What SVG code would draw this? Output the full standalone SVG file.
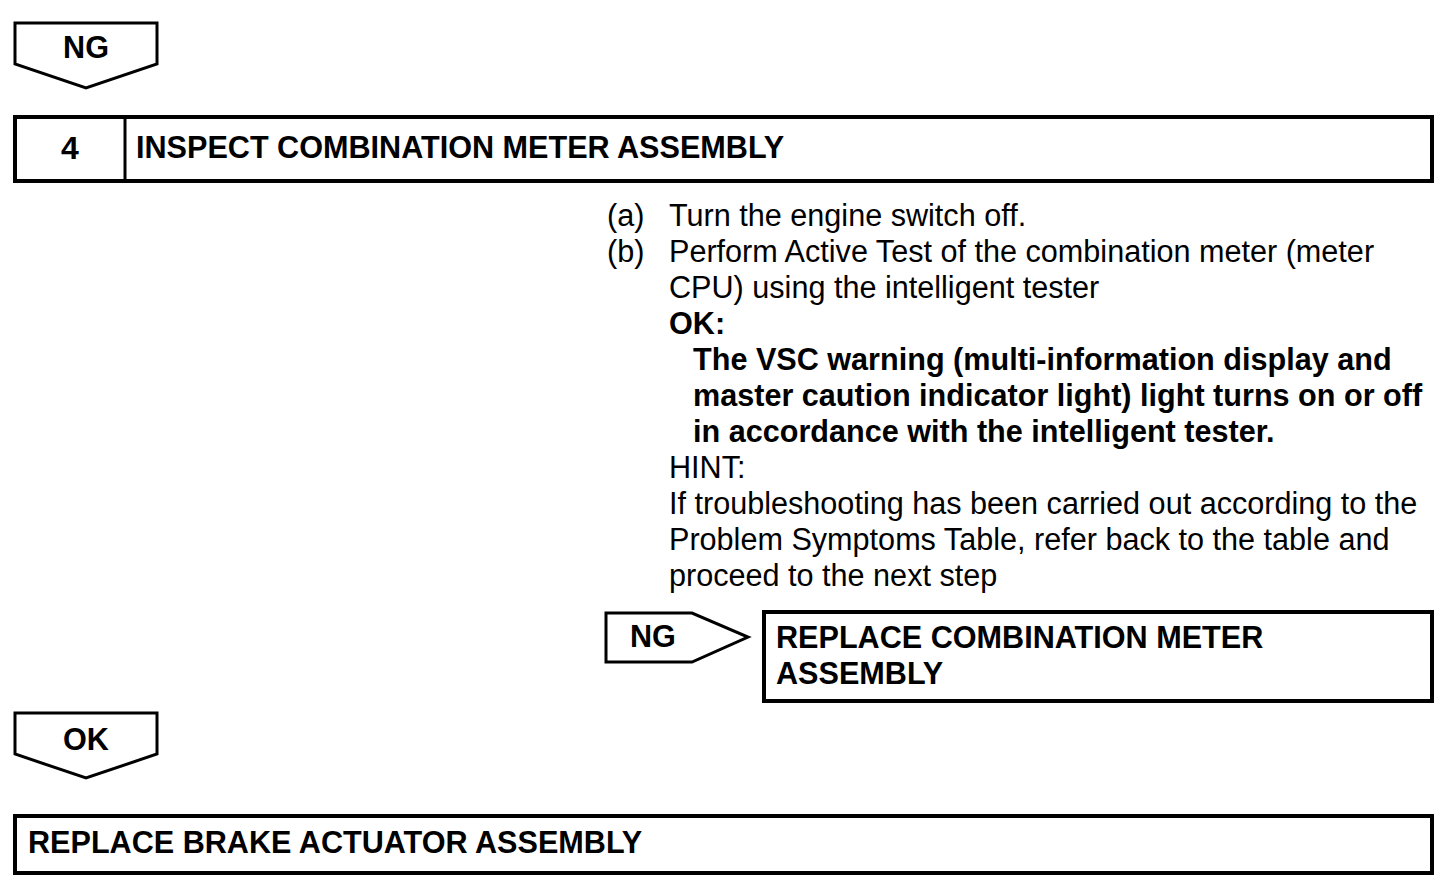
<svg xmlns="http://www.w3.org/2000/svg" width="1456" height="892" viewBox="0 0 1456 892">
<style>
.box{fill:#fff;stroke:#000;stroke-width:4}
.arr{fill:#fff;stroke:#000;stroke-width:3;stroke-linejoin:miter}
.t{font-family:"Liberation Sans",Arial,sans-serif;font-size:30.6px;fill:#000}
.b{font-family:"Liberation Sans",Arial,sans-serif;font-size:30.6px;font-weight:bold;fill:#000}
</style>
<rect width="1456" height="892" fill="#fff"/>
<g id="connectors">
<g id="ng-top">
<polygon class="arr" points="15,23 157,23 157,64 86,88 15,64"/>
<text class="b" x="86" y="58" text-anchor="middle">NG</text>
</g>
<g id="ng-right">
<polygon class="arr" points="606,613 692,613 748,637 692,662 606,662"/>
<text class="b" x="630" y="647">NG</text>
</g>
<g id="ok-down">
<polygon class="arr" points="15,713 157,713 157,754 86,778 15,754"/>
<text class="b" x="86" y="750" text-anchor="middle">OK</text>
</g>
</g>
<g id="step4">
<rect class="box" x="15" y="117" width="1417" height="64"/>
<line x1="125" y1="117" x2="125" y2="181" stroke="#000" stroke-width="3"/>
<text class="b" x="70" y="159" text-anchor="middle" style="font-size:32px">4</text>
<text class="b" x="136" y="158">INSPECT COMBINATION METER ASSEMBLY</text>
</g>
<g id="instructions">
<text class="t" x="607" y="226">(a)</text>
<text class="t" x="669" y="226">Turn the engine switch off.</text>
<text class="t" x="607" y="262">(b)</text>
<text class="t" x="669" y="262">Perform Active Test of the combination meter (meter</text>
<text class="t" x="669" y="298">CPU) using the intelligent tester</text>
<text class="b" x="669" y="334">OK:</text>
<text class="b" x="693" y="370">The VSC warning (multi-information display and</text>
<text class="b" x="693" y="406">master caution indicator light) light turns on or off</text>
<text class="b" x="693" y="442">in accordance with the intelligent tester.</text>
<text class="t" x="669" y="478">HINT:</text>
<text class="t" x="669" y="514">If troubleshooting has been carried out according to the</text>
<text class="t" x="669" y="550">Problem Symptoms Table, refer back to the table and</text>
<text class="t" x="669" y="586">proceed to the next step</text>
</g>
<g id="replace-meter">
<rect class="box" x="764" y="612" width="668" height="89"/>
<text class="b" x="776" y="648">REPLACE COMBINATION METER</text>
<text class="b" x="776" y="684">ASSEMBLY</text>
</g>
<g id="replace-actuator">
<rect class="box" x="15" y="816" width="1417" height="57"/>
<text class="b" x="28" y="853">REPLACE BRAKE ACTUATOR ASSEMBLY</text>
</g>
</svg>
